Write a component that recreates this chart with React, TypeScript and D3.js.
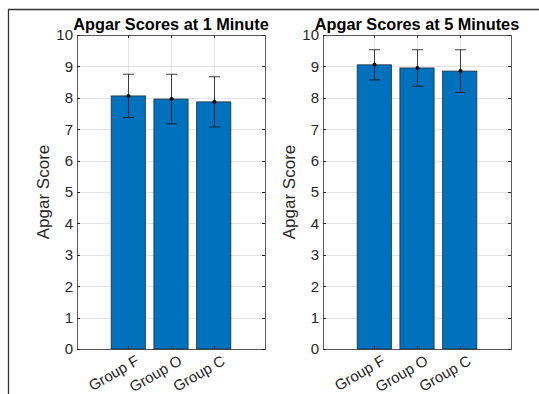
import React from "react";
import * as d3 from "d3";

const categories = ["Group F", "Group O", "Group C"];
const mean1 = [8.06, 7.96, 7.87];
const err1 = [0.69, 0.79, 0.8];
const mean5 = [9.05, 8.95, 8.85];
const err5 = [0.48, 0.58, 0.68];
const yTicks = [0, 1, 2, 3, 4, 5, 6, 7, 8, 9, 10];
const titles = ["Apgar Scores at 1 Minute", "Apgar Scores at 5 Minutes"];
const yLabel = "Apgar Score";

const W = 539;
const H = 394;
const FONT = "'Liberation Sans', Arial, Helvetica, sans-serif";
const AXC = "#262626";

type PanelProps = { x0: number; x1: number; means: number[]; errs: number[]; title: string; labelX: number };

function Panel({ x0, x1, means, errs, title, labelX }: PanelProps) {
  const top = 35;
  const bottom = 349;
  const x = d3.scaleLinear().domain([-0.2, 4.2]).range([x0, x1]);
  const y = d3.scaleLinear().domain([0, 10]).range([bottom, top]);
  const bw = x(0.8) - x(0);
  const cap = 5.5;
  const tl = 3;
  return (
    <g>
      <rect x={x0} y={top} width={x1 - x0} height={bottom - top} fill="#fff" />
      {yTicks.map((t) => (
        <line key={"gy" + t} x1={x0} x2={x1} y1={Math.round(y(t)) + 0.5} y2={Math.round(y(t)) + 0.5} stroke="#e3e3e3" strokeWidth={1} />
      ))}
      {categories.map((c, i) => (
        <line key={"gx" + c} x1={Math.round(x(i + 1)) + 0.5} x2={Math.round(x(i + 1)) + 0.5} y1={top} y2={bottom} stroke="#e3e3e3" strokeWidth={1} />
      ))}
      {means.map((m, i) => (
        <rect key={"b" + i} x={x(i + 1) - bw / 2} y={y(m)} width={bw} height={y(0) - y(m)} fill="#0072BD" stroke="#1f2b36" strokeWidth={0.8} />
      ))}
      {means.map((m, i) => {
        const cx = Math.round(x(i + 1)) + 0.5;
        const yt = y(m + errs[i]);
        const yb = y(m - errs[i]);
        return (
          <g key={"e" + i} stroke="#111" strokeWidth={1} strokeOpacity={0.8}>
            <line x1={cx} x2={cx} y1={yt} y2={yb} />
            <line x1={cx - cap} x2={cx + cap} y1={yt} y2={yt} />
            <line x1={cx - cap} x2={cx + cap} y1={yb} y2={yb} />
            <circle cx={cx} cy={y(m)} r={2} fill="#000" stroke="none" />
          </g>
        );
      })}
      <rect x={x0 + 0.5} y={top + 0.5} width={x1 - x0} height={bottom - top} fill="none" stroke={AXC} strokeOpacity={0.75} strokeWidth={1} />
      {yTicks.map((t) => (
        <g key={"ty" + t}>
          <line x1={x0} x2={x0 + tl} y1={Math.round(y(t)) + 0.5} y2={Math.round(y(t)) + 0.5} stroke={AXC} />
          <line x1={x1 - tl} x2={x1} y1={Math.round(y(t)) + 0.5} y2={Math.round(y(t)) + 0.5} stroke={AXC} />
          <text x={x0 - 4} y={y(t)} dy="0.36em" textAnchor="end" fontSize={15} fill={AXC} fontFamily={FONT}>
            {t}
          </text>
        </g>
      ))}
      {categories.map((c, i) => {
        const cx = Math.round(x(i + 1)) + 0.5;
        return (
          <g key={"tx" + c}>
            <line x1={cx} x2={cx} y1={bottom} y2={bottom - tl} stroke={AXC} />
            <line x1={cx} x2={cx} y1={top} y2={top + tl} stroke={AXC} />
            <text
              transform={`translate(${cx + 6},${bottom + 5}) rotate(-30)`}
              textAnchor="end"
              dy="0.75em"
              fontSize={15}
              fill={AXC}
              fontFamily={FONT}
            >
              {c}
            </text>
          </g>
        );
      })}
      <text x={(x0 + x1) / 2} y={30} textAnchor="middle" fontSize={16.3} fontWeight="bold" fill="#000" fontFamily={FONT}>
        {title}
      </text>
      <text transform={`translate(${labelX},${(top + bottom) / 2}) rotate(-90)`} textAnchor="middle" fontSize={17} fill={AXC} fontFamily={FONT}>
        {yLabel}
      </text>
    </g>
  );
}

export default function App() {
  return (
    <svg width={W} height={H} style={{ position: "absolute", left: 0, top: 0, background: "#fff" }}>
      <rect x={0} y={0} width={W} height={H} fill="#fff" />
      <line x1={8} x2={W} y1={9.5} y2={9.5} stroke="#333" strokeWidth={1.3} />
      <line x1={8.5} x2={8.5} y1={9} y2={H} stroke="#333" strokeWidth={1.3} />
      <Panel x0={77} x1={265} means={mean1} errs={err1} title={titles[0]} labelX={49} />
      <Panel x0={323} x1={511} means={mean5} errs={err5} title={titles[1]} labelX={295} />
    </svg>
  );
}
